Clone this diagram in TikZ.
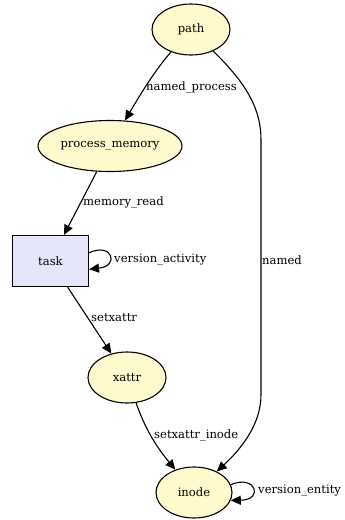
\documentclass[tikz,border=0pt]{standalone}
\usepackage{fontspec}
\setmainfont{DejaVu Serif}
\usepackage{tikz}
\usetikzlibrary{arrows.meta, shapes.geometric, calc}

\definecolor{entityfill}{RGB}{255,250,205}
\definecolor{activityfill}{RGB}{230,230,250}

\tikzset{
  entity/.style={ellipse, draw, line width=1.1pt, fill=entityfill, inner sep=0pt},
  activity/.style={rectangle, draw, line width=1.1pt, fill=activityfill, inner sep=0pt,
    minimum width=76pt, minimum height=51pt},
  edge/.style={line width=1.1pt, -{Triangle[length=10pt,width=9pt]}},
  elabel/.style={anchor=west, inner sep=0pt}
}

\begin{document}
\begin{tikzpicture}[x=1pt, y=-1pt, font=\fontsize{11.6}{13}\selectfont]
            \useasboundingbox (0,0) rectangle (345,520);

            % nodes
            \foreach \n/\x/\y/\w/\t in {path/191/29.5/78/path, procmem/110/146/144/process\_memory,
                                         xattr/127/377.5/78/xattr, inode/194/492.5/76/inode} {
                \node[entity, minimum width=\w pt, minimum height=51pt] (\n) at (\x,\y) {\t};
            }
            \node[activity] (task) at (50.5,261) {task};

            % edges
            \draw[edge] (path) .. controls (155,70) and (140,95) .. (procmem);
            \draw[edge] (path) .. controls (248,85) and (261,110) .. (261,140) -- (261,395)
                .. controls (261,425) and (240,450) .. (inode);
            \draw[edge] (procmem) -- (task);
            \draw[edge] (task.12) .. controls (112,242) and (120,266) .. (task.-12);
            \draw[edge] (task) -- (xattr);
            \draw[edge] (xattr) .. controls (145,428) and (155,445) .. (inode);
            \draw[edge] (inode.12) .. controls (256,474) and (264,500) .. (inode.-12);

            % labels
            \node[elabel] (lnp) at (146,87) {named\_process};
            \node[elabel] (lmr) at (83,202) {memory\_read};
            \node[elabel] (lva) at (114,260) {version\_activity};
            \node[elabel] (lnm) at (262,260) {named};
            \node[elabel] (lsx) at (91,318) {setxattr};
            \node[elabel] (lsi) at (154,435) {setxattr\_inode};
            \node[elabel] (lve) at (258,491) {version\_entity};
        \end{tikzpicture}
\end{document}
